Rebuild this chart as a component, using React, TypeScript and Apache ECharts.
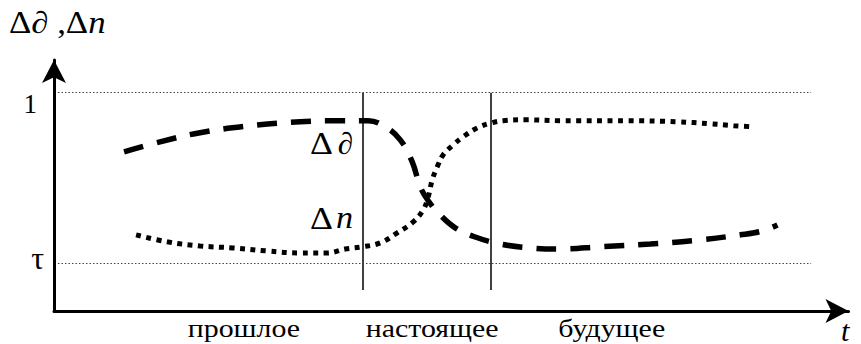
import { useEffect, useRef } from 'react';
import * as echarts from 'echarts';

// time axis (0..100) and relative level (0..1.15)
const periodLabels = ['прошлое', 'настоящее', 'будущее'];
const periodCenters = [23.9, 47.6, 70.2];
const levelValues = [1, 0.22];
const levelLabels = ['1', 'τ'];
const boundaryTimes = [38.8, 55.0];
const boundaryLow = 0.096;
const gridFrom = 0.5;
const gridTo = 95.3;

// Δ∂ (dashed)
const dT = [8.82, 13.35, 18.39, 24.69, 30.98, 36.02, 39.55, 41.69, 43.58, 45.09, 46.1, 47.1, 48.61, 50.5, 53.02, 56.17, 59.95, 63.73, 68.77, 75.06, 81.36, 86.4, 89.17, 91.06];
const dV = [0.729, 0.775, 0.817, 0.849, 0.867, 0.872, 0.872, 0.844, 0.784, 0.683, 0.569, 0.505, 0.44, 0.381, 0.339, 0.307, 0.289, 0.284, 0.294, 0.307, 0.326, 0.349, 0.367, 0.394];

// Δn (dotted)
const nT = [10.33, 14.23, 18.39, 22.54, 26.83, 30.98, 34.38, 36.65, 38.79, 41.06, 43.2, 45.21, 46.47, 47.1, 47.61, 48.24, 48.99, 50.25, 51.51, 53.27, 55.04, 56.55, 59.57, 63.73, 72.17, 78.46, 82.62, 85.52, 87.91];
const nV = [0.349, 0.317, 0.298, 0.289, 0.275, 0.266, 0.266, 0.284, 0.294, 0.312, 0.358, 0.408, 0.463, 0.523, 0.601, 0.661, 0.716, 0.761, 0.798, 0.839, 0.862, 0.872, 0.876, 0.872, 0.872, 0.867, 0.858, 0.849, 0.844];

const FONT = 'Liberation Serif, serif';

function txt(text: string, x: number, y: number, size: number, italic: boolean, align: string, scaleX = 1) {
  const style: any = { text, fontFamily: FONT, fontSize: size, fill: '#000', align, verticalAlign: 'middle' };
  if (italic) style.fontStyle = 'italic';
  return { type: 'text', x, y, scaleX, silent: true, style };
}

function buildOption() {
  const arrowAxisLine = {
    show: true,
    symbol: ['none', 'arrow'],
    symbolSize: [18, 23],
    lineStyle: { color: '#000', width: 3 },
  };
  return {
    animation: false,
    backgroundColor: '#fff',
    grid: { left: 54, right: 12.5, top: 60, bottom: 33 },
    xAxis: {
      type: 'value',
      min: 0,
      max: 100,
      axisLine: arrowAxisLine,
      axisTick: { show: false },
      splitLine: { show: false },
      axisLabel: { show: false },
    },
    yAxis: {
      type: 'value',
      min: 0,
      max: 1.15,
      axisLine: arrowAxisLine,
      axisTick: { show: false },
      splitLine: { show: false },
      axisLabel: { show: false },
    },
    series: [
      {
        name: 'Δ∂',
        type: 'line',
        data: dT.map((t, i) => [t, dV[i]]),
        smooth: 0.4,
        showSymbol: false,
        silent: true,
        lineStyle: { color: '#000', width: 5.5, type: [20, 14], cap: 'butt' },
        markLine: {
          silent: true,
          symbol: ['none', 'none'],
          label: { show: false },
          lineStyle: { color: '#000', width: 1.5, type: 'solid' },
          data: boundaryTimes.map((t) => [{ coord: [t, 1] }, { coord: [t, boundaryLow] }]),
        },
      },
      {
        name: 'Δn',
        type: 'line',
        data: nT.map((t, i) => [t, nV[i]]),
        smooth: 0.4,
        showSymbol: false,
        silent: true,
        lineStyle: { color: '#000', width: 5, type: [5, 5.5], cap: 'butt' },
        markLine: {
          silent: true,
          symbol: ['none', 'none'],
          label: { show: false },
          lineStyle: { color: '#444', width: 1, type: [1.5, 2] },
          data: levelValues.map((v) => [{ coord: [gridFrom, v] }, { coord: [gridTo, v] }]),
        },
      },
    ],
  };
}

export default function App() {
  const ref = useRef<HTMLDivElement>(null);
  useEffect(() => {
    if (!ref.current) return;
    const chart = echarts.init(ref.current, null, { renderer: 'svg' });
    chart.setOption(buildOption(), true);
    const px = (x: number, y: number) => chart.convertToPixel({ gridIndex: 0 }, [x, y]) as number[];
    const origin = px(0, 0);
    const yOne = px(0, levelValues[0])[1];
    const yTau = px(0, levelValues[1])[1];
    const graphics: any[] = [
      txt(levelLabels[0], origin[0] - 17, yOne + 11, 27, false, 'right'),
      txt(levelLabels[1], origin[0] - 10, yTau - 5, 32, false, 'right'),
      ...periodLabels.map((l, i) => txt(l, px(periodCenters[i], 0)[0], origin[1] + 17, 26, false, 'center', 1.15)),
      txt('t', 841, origin[1] + 19, 30, true, 'left'),
      txt('Δ', 333, 143, 31, false, 'right', 1.15),
      txt('∂', 353, 143, 31, true, 'right'),
      txt('Δ', 333, 218, 31, false, 'right', 1.15),
      txt('n', 353, 218, 31, true, 'right', 1.1),
    ];
    chart.setOption({ graphic: graphics });
    return () => chart.dispose();
  }, []);
  return (
    <div>
      <div ref={ref} style={{ position: 'absolute', left: 0, top: 0, width: 861, height: 344 }} />
      <div
        style={{
          position: 'absolute',
          left: 9,
          top: 5,
          fontFamily: FONT,
          fontSize: 31,
          lineHeight: '36px',
          color: '#000',
          whiteSpace: 'nowrap',
          transform: 'scaleX(1.12)',
          transformOrigin: 'left top',
        }}
      >
        Δ<i>∂</i> ,Δ<i>n</i>
      </div>
    </div>
  );
}
